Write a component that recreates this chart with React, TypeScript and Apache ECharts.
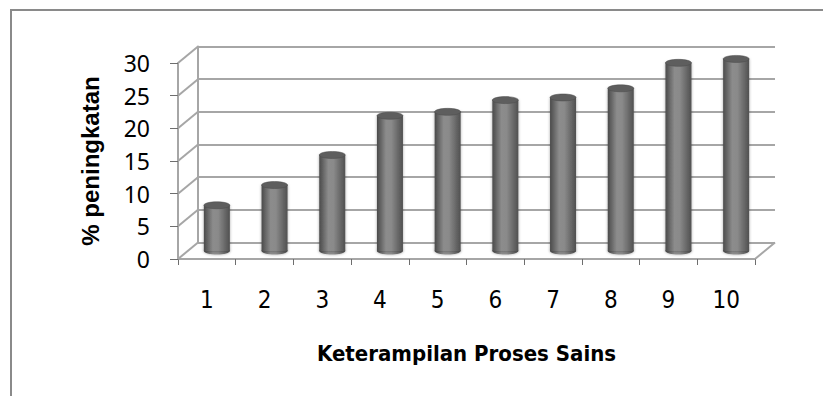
import React, { useEffect, useRef } from "react";
import * as echarts from "echarts";

const categories = ["1", "2", "3", "4", "5", "6", "7", "8", "9", "10"];
const values = [7, 10.1, 14.7, 20.7, 21.3, 23.1, 23.5, 24.9, 28.8, 29.4];
const yTicks = [0, 5, 10, 15, 20, 25, 30];
const xTitle = "Keterampilan Proses Sains";
const yTitle = "% peningkatan";

// depth offsets (pixels) for the pseudo-3D look
const BACK_DX = 20;
const BACK_DY = -16.5;
const MID_DX = 10;
const MID_DY = -8;

const GRID_LEFT = 178;
const GRID_TOP = 63;
const GRID_W = 577;
const GRID_H = 196;

const LINE_COLOR = "#a6a6a6";
const CONDENSED =
  "'Liberation Sans Narrow', 'DejaVu Sans Condensed', 'Roboto Condensed', sans-serif";

export default function App() {
  const ref = useRef<HTMLDivElement>(null);

  useEffect(() => {
    if (!ref.current) return;
    const chart = echarts.init(ref.current, null, { renderer: "svg" });

    const option: any = {
      animation: false,
      backgroundColor: "#ffffff",
      graphic: [
        {
          type: "rect",
          shape: { x: 11, y: 10, width: 900, height: 500 },
          style: { fill: "none", stroke: "#8a8a8a", lineWidth: 2 },
          silent: true,
          z: 0,
        },
      ],
      grid: [
        { left: GRID_LEFT, top: GRID_TOP, width: GRID_W, height: GRID_H },
        {
          left: GRID_LEFT + BACK_DX,
          top: GRID_TOP + BACK_DY,
          width: GRID_W,
          height: GRID_H,
        },
      ],
      xAxis: [
        {
          type: "category",
          gridIndex: 0,
          data: categories,
          boundaryGap: true,
          axisLine: { show: true, lineStyle: { color: LINE_COLOR, width: 2 } },
          axisTick: {
            show: true,
            alignWithLabel: false,
            length: 6,
            lineStyle: { color: "#6e6e6e", width: 1 },
          },
          axisLabel: {
            margin: 29,
            color: "#000",
            fontSize: 24,
            fontFamily: CONDENSED,
          },
          name: xTitle,
          nameLocation: "middle",
          nameGap: 83,
          nameTextStyle: {
            color: "#000",
            fontSize: 22,
            fontWeight: "bold",
            fontFamily: CONDENSED,
          },
          splitLine: { show: false },
        },
        {
          type: "category",
          gridIndex: 1,
          data: categories,
          show: false,
        },
      ],
      yAxis: [
        {
          type: "value",
          gridIndex: 0,
          min: 0,
          max: 30,
          interval: 5,
          axisLine: { show: true, lineStyle: { color: LINE_COLOR, width: 2 } },
          axisTick: {
            show: true,
            length: 8,
            lineStyle: { color: "#6e6e6e", width: 1 },
          },
          axisLabel: {
            margin: 28,
            color: "#000",
            fontSize: 23,
            fontFamily: "'Noto Sans', sans-serif",
          },
          splitLine: { show: false },
          name: yTitle,
          nameLocation: "middle",
          nameGap: 76,
          nameRotate: 90,
          nameTextStyle: {
            color: "#000",
            fontSize: 24,
            fontWeight: "bold",
            fontFamily: "'Liberation Sans', Arial, sans-serif",
          },
        },
        {
          type: "value",
          gridIndex: 1,
          min: 0,
          max: 30,
          interval: 5,
          axisLine: { show: true, lineStyle: { color: LINE_COLOR, width: 2 } },
          axisTick: { show: false },
          axisLabel: { show: false },
          splitLine: { show: true, lineStyle: { color: LINE_COLOR, width: 2 } },
        },
      ],
      series: [
        {
          // connectors between the front axis and the back wall
          type: "custom",
          xAxisIndex: 0,
          yAxisIndex: 0,
          data: yTicks.map((t) => [0, t]),
          silent: true,
          z: 1,
          renderItem: (params: any, api: any) => {
            const v = api.value(1);
            const bw = api.size([1, 0])[0];
            const p = api.coord([0, v]);
            const x0 = p[0] - bw / 2;
            const y0 = p[1];
            const children: any[] = [
              {
                type: "line",
                shape: { x1: x0, y1: y0, x2: x0 + BACK_DX, y2: y0 + BACK_DY },
                style: { stroke: LINE_COLOR, lineWidth: 2 },
              },
            ];
            if (v === 0) {
              const pr = api.coord([categories.length - 1, 0]);
              const xr = pr[0] + bw / 2;
              children.push({
                type: "line",
                shape: { x1: xr, y1: pr[1], x2: xr + BACK_DX, y2: pr[1] + BACK_DY },
                style: { stroke: LINE_COLOR, lineWidth: 2 },
              });
            }
            return { type: "group", children };
          },
        },
        {
          // cylinders
          type: "custom",
          xAxisIndex: 0,
          yAxisIndex: 0,
          data: values.map((v, i) => [i, v]),
          z: 5,
          renderItem: (params: any, api: any) => {
            const i = api.value(0);
            const v = api.value(1);
            const top = api.coord([i, v]);
            const base = api.coord([i, 0]);
            const cx = top[0] + MID_DX;
            const yTop = top[1] + MID_DY;
            const yBase = base[1] + MID_DY;
            const w = 26;
            const rx = w / 2;
            const ry = 3.5;
            const bodyFill = new echarts.graphic.LinearGradient(0, 0, 1, 0, [
              { offset: 0, color: "#4a4a4a" },
              { offset: 0.35, color: "#8c8c8c" },
              { offset: 0.55, color: "#8a8a8a" },
              { offset: 1, color: "#505050" },
            ]);
            return {
              type: "group",
              children: [
                {
                  type: "ellipse",
                  shape: { cx, cy: yBase, rx, ry },
                  style: { fill: bodyFill, shadowBlur: 3, shadowColor: "rgba(0,0,0,0.35)" },
                },
                {
                  type: "rect",
                  shape: { x: cx - rx, y: yTop, width: w, height: yBase - yTop },
                  style: { fill: bodyFill, shadowBlur: 3, shadowColor: "rgba(0,0,0,0.35)" },
                },
                {
                  type: "ellipse",
                  shape: { cx, cy: yTop, rx, ry },
                  style: { fill: "#5e5e5e", stroke: "#4a4a4a", lineWidth: 0.5 },
                },
              ],
            };
          },
        },
      ],
    };

    chart.setOption(option);
    return () => chart.dispose();
  }, []);

  return (
    <div
      ref={ref}
      style={{ position: "fixed", left: 0, top: 0, width: 823, height: 396 }}
    />
  );
}
